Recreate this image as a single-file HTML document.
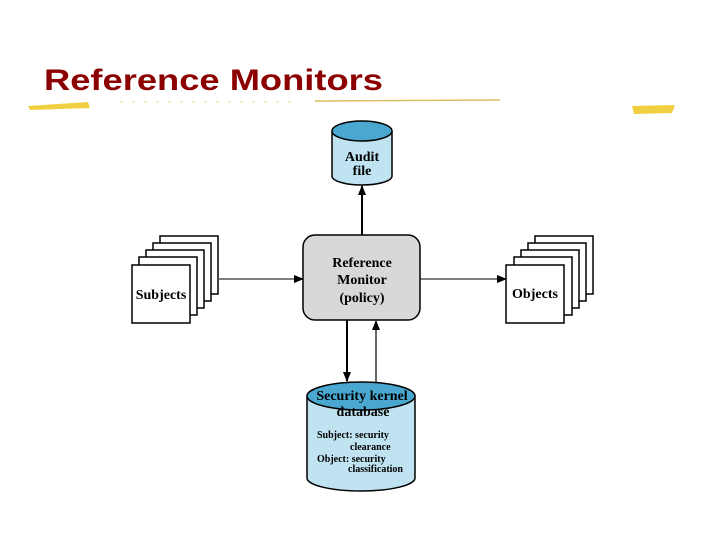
<!DOCTYPE html>
<html><head><style>
html,body{margin:0;padding:0;background:#fff;}
svg{display:block;}
</style></head><body>
<svg width="720" height="540" viewBox="0 0 720 540" xmlns="http://www.w3.org/2000/svg">
<defs>
<marker id="ah" markerWidth="10" markerHeight="8" refX="9" refY="4" orient="auto" markerUnits="userSpaceOnUse">
<path d="M0,0 L10,4 L0,8 z" fill="#000"/>
</marker>
</defs>
<text x="44" y="90" font-family="Liberation Sans, sans-serif" font-weight="bold" font-size="30" fill="#8b0000" textLength="339" lengthAdjust="spacingAndGlyphs">Reference Monitors</text>
<path d="M28,106 L88,102 L90,108 L30,110 z" fill="#f0d040"/>
<line x1="315" y1="101" x2="500" y2="100" stroke="#d8c060" stroke-width="1.5"/>
<line x1="120" y1="102" x2="300" y2="102" stroke="#e8d8a0" stroke-width="1" stroke-dasharray="3,9"/>
<path d="M632,106 L675,105 L672,113 L634,114 z" fill="#f0d040"/>

<g stroke="#000" stroke-width="1.5" fill="#fff">
<rect x="160" y="236" width="58" height="58"/>
<rect x="153" y="243" width="58" height="58"/>
<rect x="146" y="250" width="58" height="58"/>
<rect x="139" y="257" width="58" height="58"/>
<rect x="132" y="265" width="58" height="58"/>
</g>
<text x="161" y="299" text-anchor="middle" font-family="Liberation Serif, serif" font-weight="bold" font-size="14">Subjects</text>

<g stroke="#000" stroke-width="1.5" fill="#fff">
<rect x="535" y="236" width="58" height="58"/>
<rect x="528" y="243" width="58" height="58"/>
<rect x="521" y="250" width="58" height="58"/>
<rect x="514" y="257" width="58" height="58"/>
<rect x="506" y="265" width="58" height="58"/>
</g>
<text x="535" y="298" text-anchor="middle" font-family="Liberation Serif, serif" font-weight="bold" font-size="14">Objects</text>

<line x1="218" y1="279" x2="303" y2="279" stroke="#555" stroke-width="1.5" marker-end="url(#ah)"/>
<line x1="420" y1="279" x2="506" y2="279" stroke="#555" stroke-width="1.5" marker-end="url(#ah)"/>

<path d="M332,131 L332,176 A30,9 0 0 0 392,176 L392,131" fill="#bfe3f0" stroke="#000" stroke-width="1.5"/>
<ellipse cx="362" cy="131" rx="30" ry="10" fill="#4aa8d0" stroke="#000" stroke-width="1.5"/>
<text x="362" y="161" text-anchor="middle" font-family="Liberation Serif, serif" font-weight="bold" font-size="14">Audit</text>
<text x="362" y="175" text-anchor="middle" font-family="Liberation Serif, serif" font-weight="bold" font-size="14">file</text>
<line x1="362" y1="235" x2="362" y2="186" stroke="#000" stroke-width="2" marker-end="url(#ah)"/>

<rect x="303" y="235" width="117" height="85" rx="12" fill="#d8d8d8" stroke="#000" stroke-width="1.5"/>
<text x="362" y="267" text-anchor="middle" font-family="Liberation Serif, serif" font-weight="bold" font-size="14">Reference</text>
<text x="362" y="284" text-anchor="middle" font-family="Liberation Serif, serif" font-weight="bold" font-size="14">Monitor</text>
<text x="362" y="302" text-anchor="middle" font-family="Liberation Serif, serif" font-weight="bold" font-size="14">(policy)</text>

<line x1="347" y1="320" x2="347" y2="381" stroke="#000" stroke-width="2" marker-end="url(#ah)"/>
<line x1="376" y1="384" x2="376" y2="321" stroke="#000" stroke-width="1.2" marker-end="url(#ah)"/>

<path d="M307,396 L307,478 A54,13 0 0 0 415,478 L415,396" fill="#bfe3f0" stroke="#000" stroke-width="1.5"/>
<ellipse cx="361" cy="396" rx="54" ry="14" fill="#4aa8d0" stroke="#000" stroke-width="1.5"/>
<text x="362" y="400" text-anchor="middle" font-family="Liberation Serif, serif" font-weight="bold" font-size="14">Security kernel</text>
<text x="363" y="416" text-anchor="middle" font-family="Liberation Serif, serif" font-weight="bold" font-size="14">database</text>
<g font-family="Liberation Serif, serif" font-weight="bold" font-size="10">
<text x="317" y="438">Subject: security</text>
<text x="350" y="450">clearance</text>
<text x="317" y="462">Object: security</text>
<text x="348" y="472">classification</text>
</g>
</svg>
</body></html>
